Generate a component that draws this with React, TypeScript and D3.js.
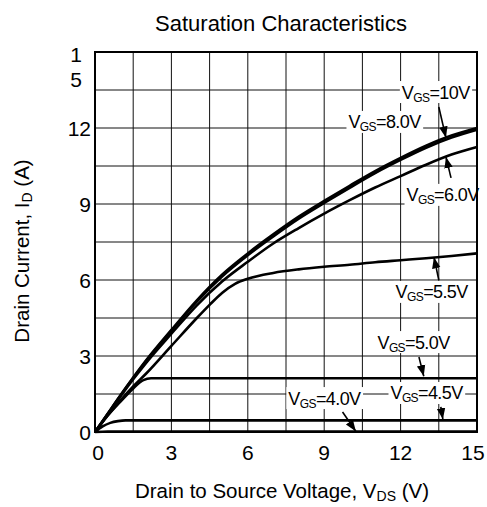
import * as d3 from 'd3';
import { useLayoutEffect, useRef, useState } from 'react';

const width = 487;
const height = 507;
const margin = { top: 52, right: 10, bottom: 75, left: 95 };
const font = '"Liberation Sans", Arial, sans-serif';

// tick labels
const xTicks = [0, 3, 6, 9, 12, 15];
const yTicks = [0, 3, 6, 9, 12];
const gridSteps = [1.5, 3, 4.5, 6, 7.5, 9, 10.5, 12, 13.5];

// curves: V_DS (V) and I_D (A)
const vgs10V = [0, 0.5, 1, 1.5, 2, 3, 4, 5, 6, 7, 8, 9, 10, 11, 12, 13, 14, 15];
const vgs10I = [0, 0.72, 1.45, 2.15, 2.82, 4.03, 5.2, 6.22, 7.05, 7.8, 8.5, 9.12, 9.72, 10.3, 10.82, 11.3, 11.7, 12.0];
const vgs8V = [0, 0.5, 1, 1.5, 2, 3, 4, 5, 6, 7, 8, 9, 10, 11, 12, 13, 14, 15];
const vgs8I = [0, 0.72, 1.44, 2.13, 2.79, 3.99, 5.15, 6.15, 6.98, 7.72, 8.42, 9.04, 9.64, 10.22, 10.74, 11.22, 11.62, 11.93];
const vgs6V = [0, 0.5, 1, 1.5, 2, 3, 4, 5, 6, 7, 8, 9, 10, 11, 12, 13, 14, 15];
const vgs6I = [0, 0.7, 1.4, 2.08, 2.72, 3.88, 5.0, 5.95, 6.72, 7.44, 8.05, 8.62, 9.15, 9.65, 10.1, 10.55, 10.95, 11.25];
const vgs55V = [0, 0.5, 1, 1.5, 2, 3, 4, 4.5, 5, 5.5, 6, 7, 8, 9, 10, 11, 12, 13, 14, 15];
const vgs55I = [0, 0.65, 1.25, 1.8, 2.3, 3.4, 4.5, 5.02, 5.5, 5.85, 6.05, 6.28, 6.42, 6.52, 6.6, 6.7, 6.78, 6.86, 6.95, 7.05];
const vgs5V = [0, 0.5, 1, 1.5, 1.9, 2.2, 3, 6, 9, 12, 15];
const vgs5I = [0, 0.65, 1.2, 1.72, 2.05, 2.12, 2.12, 2.12, 2.12, 2.12, 2.12];
const vgs45V = [0, 0.3, 0.6, 0.9, 1.2, 2, 6, 10, 15];
const vgs45I = [0, 0.22, 0.36, 0.43, 0.46, 0.46, 0.46, 0.46, 0.46];
const vgs4V = [0, 0.5, 5, 10, 15];
const vgs4I = [0, 0.02, 0.02, 0.02, 0.02];

const curves = [
  { v: vgs10V, i: vgs10I },
  { v: vgs8V, i: vgs8I },
  { v: vgs6V, i: vgs6I },
  { v: vgs55V, i: vgs55I },
  { v: vgs5V, i: vgs5I },
  { v: vgs45V, i: vgs45I },
  { v: vgs4V, i: vgs4I },
];

// annotation labels: value, label centre and arrow (data units)
const labelValues = ['10V', '8.0V', '6.0V', '5.5V', '5.0V', '4.5V', '4.0V'];
const labelX = [13.39, 11.38, 13.66, 13.23, 12.52, 13.03, 9.02];
const labelY = [13.42, 12.24, 9.36, 5.53, 3.55, 1.54, 1.34];
const arrowFrom = [[13.5, 12.83], null, [13.98, 10.03], [13.5, 6.0], [12.72, 2.96], [13.58, 0.99], [9.72, 0.79]];
const arrowTo = [[13.78, 11.62], null, [13.78, 10.86], [13.31, 6.9], [12.91, 2.2], [13.66, 0.5], [10.24, 0.03]];

const x = d3.scaleLinear().domain([0, 15]).range([margin.left, width - margin.right]);
const y = d3.scaleLinear().domain([0, 15]).range([height - margin.bottom, margin.top]);

const Label = ({ cx, cy, value }) => {
  const ref = useRef(null);
  const [w, setW] = useState(72);
  useLayoutEffect(() => {
    if (ref.current) setW(ref.current.getBBox().width);
  }, []);
  return (
    <g>
      <rect x={cx - w / 2 - 2} y={cy - 11} width={w + 4} height={22} fill="white" />
      <text ref={ref} x={cx - w / 2} y={cy + 6.5} fontSize={18} fontFamily={font} letterSpacing={-0.6}>
        V<tspan fontSize={12} dy={3}>GS</tspan>
        <tspan dy={-3}>={value}</tspan>
      </text>
    </g>
  );
};

export default function App() {
  const line = d3
    .line<number>()
    .x((d) => x(d[0]))
    .y((d) => y(d[1]))
    .curve(d3.curveMonotoneX);

  return (
    <svg width={width} height={height} style={{ position: 'fixed', left: 0, top: 0 }}>
      <defs>
        <marker id="ah" viewBox="0 0 10 10" refX="10" refY="5" markerWidth="7" markerHeight="7" orient="auto">
          <path d="M0,1.2 L10,5 L0,8.8 z" fill="black" />
        </marker>
      </defs>
      <rect width={width} height={height} fill="white" />
      <text x={281} y={31} textAnchor="middle" fontSize={22} fontFamily={font}>
        Saturation Characteristics
      </text>
      <g stroke="#111" strokeWidth={1}>
        {gridSteps.map((g) => (
          <line key={'v' + g} x1={x(g)} x2={x(g)} y1={y(0)} y2={y(15)} />
        ))}
        {gridSteps.map((g) => (
          <line key={'h' + g} x1={x(0)} x2={x(15)} y1={y(g)} y2={y(g)} />
        ))}
      </g>
      {labelValues.map((v, k) => (
        <Label key={v} cx={x(labelX[k])} cy={y(labelY[k])} value={v} />
      ))}
      <rect
        x={x(0)}
        y={y(15)}
        width={x(15) - x(0)}
        height={y(0) - y(15)}
        fill="none"
        stroke="black"
        strokeWidth={2}
      />
      <g fill="none" stroke="black" strokeWidth={2.6} strokeLinejoin="round">
        {curves.map((c, k) => (
          <path key={k} d={line(c.v.map((v, j) => [v, c.i[j]]))} />
        ))}
      </g>
      <g stroke="black" strokeWidth={1.6}>
        {arrowFrom.map((a, k) =>
          a ? (
            <line
              key={k}
              x1={x(a[0])}
              y1={y(a[1])}
              x2={x(arrowTo[k][0])}
              y2={y(arrowTo[k][1])}
              markerEnd="url(#ah)"
            />
          ) : null
        )}
      </g>
      <g fontSize={21} fontFamily={font}>
        {xTicks.map((t) => (
          <text
            key={t}
            x={x(t) + (t === 0 ? 3 : t === 15 ? -4 : 0)}
            y={460}
            textAnchor="middle"
          >
            {t}
          </text>
        ))}
        {yTicks.map((t) => (
          <text key={t} x={x(0) - 4} y={y(t) + 7.5} textAnchor="end">
            {t}
          </text>
        ))}
        <text x={76} y={62} textAnchor="middle">1</text>
        <text x={76} y={87} textAnchor="middle">5</text>
      </g>
      <text x={282} y={498} textAnchor="middle" fontSize={20.5} fontFamily={font}>
        Drain to Source Voltage, V<tspan fontSize={14} dy={3}>DS</tspan>
        <tspan dy={-3}> (V)</tspan>
      </text>
      <text
        transform={`translate(29,251) rotate(-90)`}
        textAnchor="middle"
        fontSize={20.5}
        fontFamily={font}
      >
        Drain Current, I<tspan fontSize={14} dy={3}>D</tspan>
        <tspan dy={-3}> (A)</tspan>
      </text>
    </svg>
  );
}
